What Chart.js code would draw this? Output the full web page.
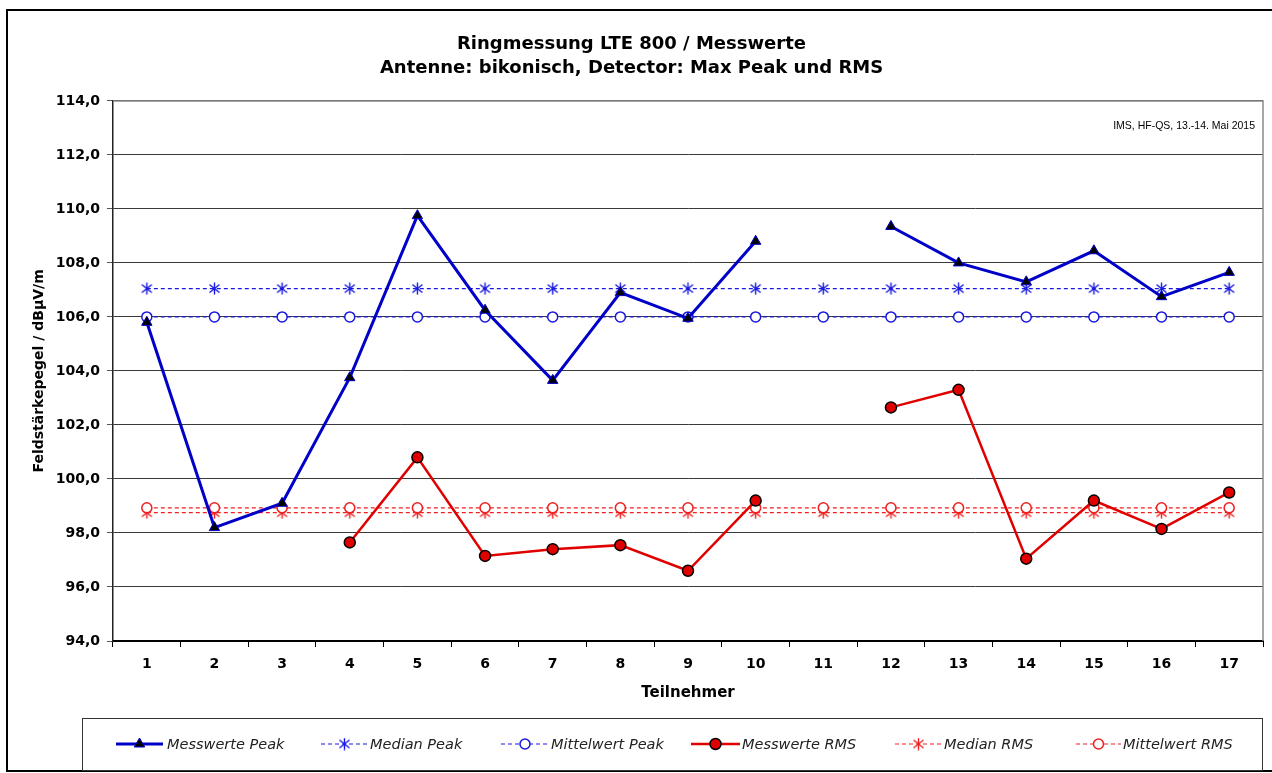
<!DOCTYPE html>
<html lang="de">
<head>
<meta charset="utf-8">
<title>Ringmessung LTE 800 / Messwerte</title>
<script src="https://cdn.jsdelivr.net/npm/chart.js@4/dist/chart.umd.min.js"></script>
<style>
  html, body { margin: 0; padding: 0; background: #fff; }
  #wrap { position: relative; width: 1272px; height: 773px; }
</style>
</head>
<body>
<div id="wrap"><canvas id="chart"></canvas></div>
<script>
// Daten
const teilnehmer = ['1', '2', '3', '4', '5', '6', '7', '8', '9', '10', '11', '12', '13', '14', '15', '16', '17'];
const messwertePeak = [105.8, 98.2, 99.1, 103.75, 109.75, 106.25, 103.65, 106.9, 105.95, 108.8, null, 109.35, 108.0, 107.3, 108.45, 106.75, 107.65];
const medianPeak = [107.05, 107.05, 107.05, 107.05, 107.05, 107.05, 107.05, 107.05, 107.05, 107.05, 107.05, 107.05, 107.05, 107.05, 107.05, 107.05, 107.05];
const mittelwertPeak = [106.0, 106.0, 106.0, 106.0, 106.0, 106.0, 106.0, 106.0, 106.0, 106.0, 106.0, 106.0, 106.0, 106.0, 106.0, 106.0, 106.0];
const messwerteRms = [null, null, null, 97.65, 100.8, 97.15, 97.4, 97.55, 96.6, 99.2, null, 102.65, 103.3, 97.05, 99.2, 98.15, 99.5];
const medianRms = [98.75, 98.75, 98.75, 98.75, 98.75, 98.75, 98.75, 98.75, 98.75, 98.75, 98.75, 98.75, 98.75, 98.75, 98.75, 98.75, 98.75];
const mittelwertRms = [98.93, 98.93, 98.93, 98.93, 98.93, 98.93, 98.93, 98.93, 98.93, 98.93, 98.93, 98.93, 98.93, 98.93, 98.93, 98.93, 98.93];
const yTicks = [94, 96, 98, 100, 102, 104, 106, 108, 110, 112, 114];

const titelZeilen = ['Ringmessung LTE 800 / Messwerte', 'Antenne: bikonisch, Detector: Max Peak und RMS'];
const quelle = 'IMS, HF-QS, 13.-14. Mai 2015';

const BLAU = '#0000c8';
const BLAU_D = '#1818e0';
const ROT = '#e00000';
const ROT_D = '#f02020';

// Sternchen-Marker wie in Excel (X mit senkrechtem Strich)
const makeStar = (color) => {
    const c = document.createElement('canvas');
    c.width = 13; c.height = 13;
    const g = c.getContext('2d');
    g.strokeStyle = color;
    g.lineWidth = 1.4;
    g.beginPath();
    g.moveTo(6.5, 0.5); g.lineTo(6.5, 12.5);
    g.moveTo(1.5, 2.5); g.lineTo(11.5, 10.5);
    g.moveTo(11.5, 2.5); g.lineTo(1.5, 10.5);
    g.stroke();
    return c;
};
const starBlau = makeStar(BLAU_D);
const starRot = makeStar(ROT_D);

const datasets = [
    { label: 'Messwerte Peak', data: messwertePeak, borderColor: BLAU, borderWidth: 3, pointStyle: 'triangle', pointRadius: 6, pointBackgroundColor: '#000', pointBorderColor: BLAU, pointBorderWidth: 1, order: 0 },
    { label: 'Median Peak', data: medianPeak, borderColor: BLAU_D, borderWidth: 1.2, borderDash: [4, 3], pointStyle: starBlau, pointRadius: 6, order: 3 },
    { label: 'Mittelwert Peak', data: mittelwertPeak, borderColor: BLAU_D, borderWidth: 1.2, borderDash: [4, 3], pointStyle: 'circle', pointRadius: 5, pointBackgroundColor: '#fff', pointBorderColor: BLAU_D, pointBorderWidth: 1.5, order: 2 },
    { label: 'Messwerte RMS', data: messwerteRms, borderColor: ROT, borderWidth: 2.5, pointStyle: 'circle', pointRadius: 5.5, pointBackgroundColor: ROT, pointBorderColor: '#000', pointBorderWidth: 1.5, order: 1 },
    { label: 'Median RMS', data: medianRms, borderColor: ROT_D, borderWidth: 1.2, borderDash: [4, 3], pointStyle: starRot, pointRadius: 6, order: 5 },
    { label: 'Mittelwert RMS', data: mittelwertRms, borderColor: ROT_D, borderWidth: 1.2, borderDash: [4, 3], pointStyle: 'circle', pointRadius: 5, pointBackgroundColor: '#fff', pointBorderColor: ROT_D, pointBorderWidth: 1.5, order: 4 }
];
datasets.forEach(ds => { ds.tension = 0; ds.fill = false; ds.spanGaps = false; });

// Marker für die Legende selbst zeichnen
const drawMarker = (ctx, ds, x, y) => {
    const st = ds.pointStyle;
    ctx.save();
    ctx.setLineDash([]);
    if (st instanceof HTMLCanvasElement) {
        ctx.drawImage(st, x - st.width / 2, y - st.height / 2);
    } else if (st === 'triangle') {
        const r = ds.pointRadius;
        ctx.beginPath();
        for (let i = 0; i < 3; i++) {
            const a = i * 2 * Math.PI / 3;
            const px = x + Math.sin(a) * r, py = y - Math.cos(a) * r;
            i === 0 ? ctx.moveTo(px, py) : ctx.lineTo(px, py);
        }
        ctx.closePath();
        ctx.fillStyle = ds.pointBackgroundColor;
        ctx.fill();
        ctx.lineWidth = ds.pointBorderWidth;
        ctx.strokeStyle = ds.pointBorderColor;
        ctx.stroke();
    } else {
        ctx.beginPath();
        ctx.arc(x, y, ds.pointRadius, 0, Math.PI * 2);
        ctx.fillStyle = ds.pointBackgroundColor;
        ctx.fill();
        ctx.lineWidth = ds.pointBorderWidth;
        ctx.strokeStyle = ds.pointBorderColor;
        ctx.stroke();
    }
    ctx.restore();
};

const rahmenPlugin = {
    id: 'rahmen',
    beforeDatasetsDraw(chart) {
        const { ctx, chartArea: a } = chart;
        ctx.save();
        ctx.strokeStyle = '#8a8a8a';
        ctx.lineWidth = 1.5;
        ctx.beginPath();
        ctx.moveTo(a.left, a.top);
        ctx.lineTo(a.right, a.top);
        ctx.lineTo(a.right, a.bottom);
        ctx.stroke();
        ctx.restore();
    },
    afterDraw(chart) {
        const { ctx, chartArea: a } = chart;
        ctx.save();
        // äußerer Rahmen
        ctx.strokeStyle = '#000';
        ctx.lineWidth = 2;
        ctx.strokeRect(7, 10, 1272, 761);

        // Quellenangabe
        ctx.font = '10.5px "Liberation Sans", Arial, sans-serif';
        ctx.fillStyle = '#000';
        ctx.textAlign = 'right';
        ctx.textBaseline = 'middle';
        ctx.fillText(quelle, a.right - 8, 126);

        // Legende
        ctx.strokeStyle = '#333';
        ctx.lineWidth = 1;
        ctx.strokeRect(82.5, 718.5, 1180, 52);
        const ly = 744;
        const pos = [[116, 163, 167], [321, 368, 370], [501, 549, 551], [691, 740, 742], [895, 942, 944], [1076, 1121, 1123]];
        ctx.font = 'italic 14.5px "DejaVu Sans", sans-serif';
        ctx.textAlign = 'left';
        datasets.forEach((ds, i) => {
            const [x0, x1, tx] = pos[i];
            ctx.beginPath();
            ctx.setLineDash(ds.borderDash || []);
            ctx.strokeStyle = ds.borderColor;
            ctx.lineWidth = ds.borderWidth;
            ctx.moveTo(x0, ly);
            ctx.lineTo(x1, ly);
            ctx.stroke();
            drawMarker(ctx, ds, (x0 + x1) / 2, ly);
            ctx.fillStyle = '#222';
            ctx.fillText(ds.label, tx, ly + 1);
        });
        ctx.restore();
    }
};

const ctx = document.getElementById('chart').getContext('2d');
new Chart(ctx, {
    type: 'line',
    data: { labels: teilnehmer, datasets: datasets },
    options: {
        responsive: true,
        maintainAspectRatio: false,
        animation: false,
        layout: { padding: { left: 0, right: 9, top: 0, bottom: 62 } },
        plugins: {
            legend: { display: false },
            tooltip: { enabled: false },
            title: {
                display: true,
                text: titelZeilen,
                color: '#000',
                font: { family: '"DejaVu Sans", sans-serif', size: 18, weight: 'bold', lineHeight: 1.33 },
                padding: { top: 32, bottom: 21 }
            }
        },
        scales: {
            x: {
                type: 'category',
                offset: true,
                afterFit: (scale) => { scale.height = 70; },
                grid: { offset: true, drawOnChartArea: false, drawTicks: true, tickLength: 6, color: '#000' },
                border: { color: '#000', width: 2 },
                ticks: { color: '#000', padding: 9, font: { family: '"DejaVu Sans", sans-serif', size: 14, weight: 'bold' } },
                title: { display: true, text: 'Teilnehmer', color: '#000', padding: { top: 0, bottom: 9 }, font: { family: '"DejaVu Sans", sans-serif', size: 15, weight: 'bold', lineHeight: 1.2 } }
            },
            y: {
                min: 94,
                max: 114,
                afterFit: (scale) => { scale.width = 113; },
                afterBuildTicks: (scale) => { scale.ticks = yTicks.map(v => ({ value: v })); },
                grid: { color: '#3a3a3a', lineWidth: 1, drawTicks: true, tickLength: 6, tickColor: '#555' },
                border: { color: '#222', width: 1.5 },
                ticks: {
                    color: '#000',
                    padding: 7,
                    font: { family: '"DejaVu Sans", sans-serif', size: 14, weight: 'bold' },
                    callback: (v) => Number(v).toFixed(1).replace('.', ',')
                },
                title: { display: true, text: 'Feldstärkepegel / dBµV/m', color: '#000', padding: { top: 31, bottom: 0 }, font: { family: '"DejaVu Sans", sans-serif', size: 14, weight: 'bold', lineHeight: 1.2 } }
            }
        }
    },
    plugins: [rahmenPlugin]
});
</script>
</body>
</html>
